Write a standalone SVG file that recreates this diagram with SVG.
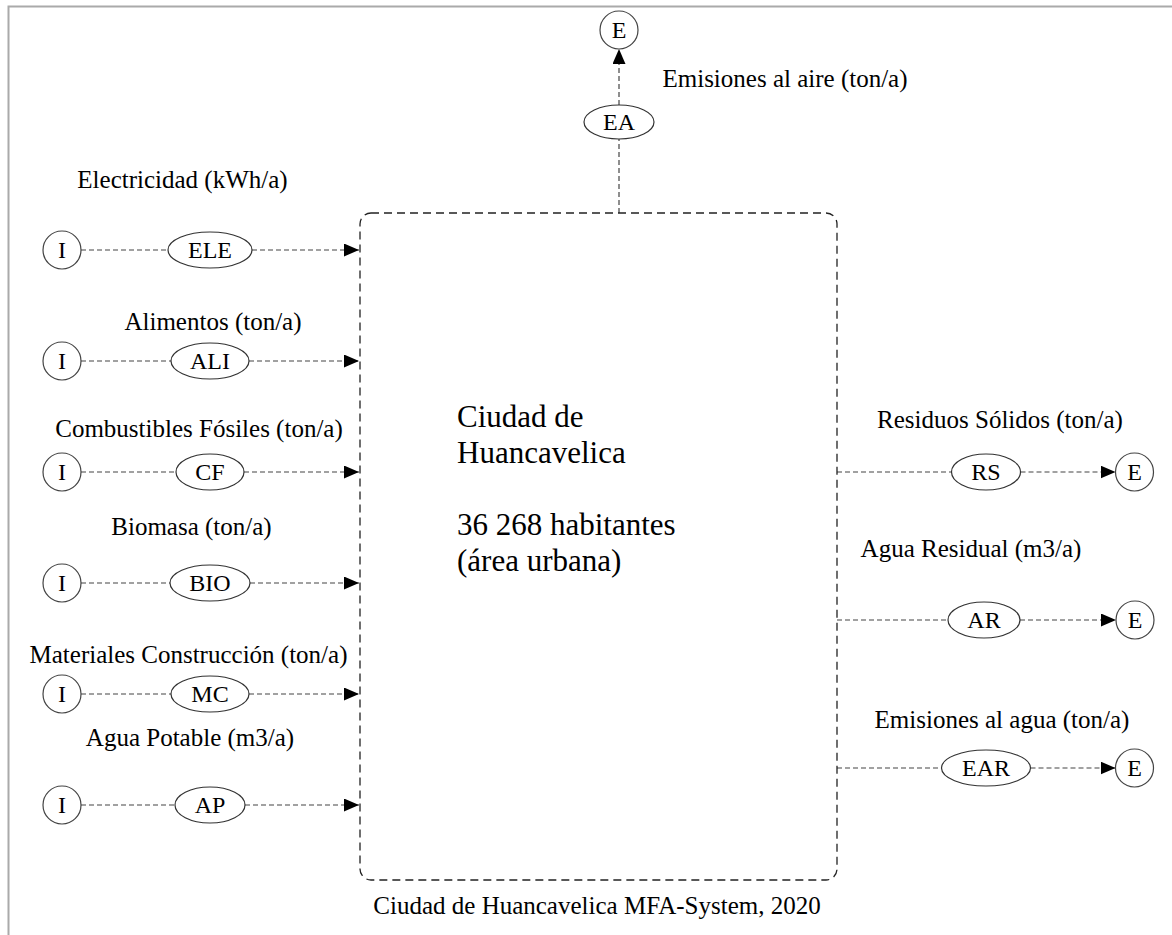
<svg xmlns="http://www.w3.org/2000/svg" width="1172" height="935" viewBox="0 0 1172 935" font-family="'Liberation Serif','Times New Roman',serif">
<defs>
<marker id="arr" markerUnits="userSpaceOnUse" markerWidth="15" markerHeight="13" refX="15" refY="6.5" orient="auto">
<path d="M0,0 L15,6.5 L0,13 z" fill="#000"/>
</marker>
<style>
text{font-family:"Liberation Serif","Times New Roman",serif;fill:#000}
.lbl{font-size:25px;text-anchor:middle}
.nt{font-size:24px;text-anchor:middle}
.big{font-size:31px;font-family:"Liberation Serif","Times New Roman",serif}
.ell{fill:#fff;stroke:#333;stroke-width:1.2}
.cir{fill:#fff;stroke:#444;stroke-width:1.2}
.con{fill:none;stroke:#444;stroke-width:1.2;stroke-dasharray:5,3}
.box{fill:none;stroke:#222;stroke-width:1.3;stroke-dasharray:8,5}
</style>
</defs>
<rect x="8.5" y="6.5" width="1200" height="1000" fill="#fff" stroke="#aaa" stroke-width="2"/>

<g id="connectors">
<line class="con" x1="81" y1="250" x2="168" y2="250"/>
<line class="con" x1="252" y1="250" x2="359" y2="250" marker-end="url(#arr)"/>
<line class="con" x1="81" y1="361" x2="171" y2="361"/>
<line class="con" x1="249" y1="361" x2="359" y2="361" marker-end="url(#arr)"/>
<line class="con" x1="81" y1="472" x2="176" y2="472"/>
<line class="con" x1="244" y1="472" x2="359" y2="472" marker-end="url(#arr)"/>
<line class="con" x1="81" y1="583" x2="170" y2="583"/>
<line class="con" x1="250" y1="583" x2="359" y2="583" marker-end="url(#arr)"/>
<line class="con" x1="81" y1="694" x2="171" y2="694"/>
<line class="con" x1="249" y1="694" x2="359" y2="694" marker-end="url(#arr)"/>
<line class="con" x1="81" y1="805" x2="175" y2="805"/>
<line class="con" x1="245" y1="805" x2="359" y2="805" marker-end="url(#arr)"/>
<line class="con" x1="619" y1="213" x2="619" y2="139"/>
<line class="con" x1="619" y1="105" x2="619" y2="49" marker-end="url(#arr)"/>
<line class="con" x1="837" y1="472" x2="951.5" y2="472"/>
<line class="con" x1="1020.5" y1="472" x2="1115.5" y2="472" marker-end="url(#arr)"/>
<line class="con" x1="837" y1="620" x2="948" y2="620"/>
<line class="con" x1="1020" y1="620" x2="1116" y2="620" marker-end="url(#arr)"/>
<line class="con" x1="837" y1="768" x2="941.5" y2="768"/>
<line class="con" x1="1030.5" y1="768" x2="1115.5" y2="768" marker-end="url(#arr)"/>
</g>

<g id="city">
<rect class="box" x="360" y="213" width="477" height="667" rx="11"/>
<text class="big" x="457" y="427">Ciudad de</text>
<text class="big" x="457" y="463">Huancavelica</text>
<text class="big" x="457" y="535">36 268 habitantes</text>
<text class="big" x="457" y="571">(área urbana)</text>
</g>

<g id="labels">
<text class="lbl" x="182.5" y="188">Electricidad (kWh/a)</text>
<text class="lbl" x="213" y="330">Alimentos (ton/a)</text>
<text class="lbl" x="199" y="437">Combustibles Fósiles (ton/a)</text>
<text class="lbl" x="191.5" y="535">Biomasa (ton/a)</text>
<text class="lbl" x="188.5" y="663">Materiales Construcción (ton/a)</text>
<text class="lbl" x="190" y="746">Agua Potable (m3/a)</text>
<text class="lbl" x="785" y="87">Emisiones al aire (ton/a)</text>
<text class="lbl" x="1000" y="428">Residuos Sólidos (ton/a)</text>
<text class="lbl" x="971" y="557">Agua Residual (m3/a)</text>
<text class="lbl" x="1002" y="728">Emisiones al agua (ton/a)</text>
<text class="lbl" x="597" y="914">Ciudad de Huancavelica MFA-System, 2020</text>
</g>

<g id="I1"><circle class="cir" cx="62" cy="250" r="19"/><text class="nt" x="62" y="258">I</text></g>
<g id="I2"><circle class="cir" cx="62" cy="361" r="19"/><text class="nt" x="62" y="369">I</text></g>
<g id="I3"><circle class="cir" cx="62" cy="472" r="19"/><text class="nt" x="62" y="480">I</text></g>
<g id="I4"><circle class="cir" cx="62" cy="583" r="19"/><text class="nt" x="62" y="591">I</text></g>
<g id="I5"><circle class="cir" cx="62" cy="694" r="19"/><text class="nt" x="62" y="702">I</text></g>
<g id="I6"><circle class="cir" cx="62" cy="805" r="19"/><text class="nt" x="62" y="813">I</text></g>

<g id="ELE"><ellipse class="ell" cx="210" cy="250" rx="42" ry="18"/><text class="nt" x="210" y="258">ELE</text></g>
<g id="ALI"><ellipse class="ell" cx="210" cy="361" rx="39" ry="18"/><text class="nt" x="210" y="369">ALI</text></g>
<g id="CF"><ellipse class="ell" cx="210" cy="472" rx="34" ry="18"/><text class="nt" x="210" y="480">CF</text></g>
<g id="BIO"><ellipse class="ell" cx="210" cy="583" rx="40" ry="18"/><text class="nt" x="210" y="591">BIO</text></g>
<g id="MC"><ellipse class="ell" cx="210" cy="694" rx="39" ry="18"/><text class="nt" x="210" y="702">MC</text></g>
<g id="AP"><ellipse class="ell" cx="210" cy="805" rx="35" ry="18"/><text class="nt" x="210" y="813">AP</text></g>

<g id="EA"><ellipse class="ell" cx="619" cy="122" rx="35" ry="17"/><text class="nt" x="619" y="130">EA</text></g>
<g id="E_air"><circle class="cir" cx="619" cy="30" r="19"/><text class="nt" x="619" y="38">E</text></g>

<g id="RS"><ellipse class="ell" cx="986" cy="472" rx="34.5" ry="18"/><text class="nt" x="986" y="480">RS</text></g>
<g id="AR"><ellipse class="ell" cx="984" cy="620" rx="36" ry="18"/><text class="nt" x="984" y="628">AR</text></g>
<g id="EAR"><ellipse class="ell" cx="986" cy="768" rx="44.5" ry="18"/><text class="nt" x="986" y="776">EAR</text></g>

<g id="E_RS"><circle class="cir" cx="1134.5" cy="472" r="19"/><text class="nt" x="1134.5" y="480">E</text></g>
<g id="E_AR"><circle class="cir" cx="1135" cy="620" r="19"/><text class="nt" x="1135" y="628">E</text></g>
<g id="E_EAR"><circle class="cir" cx="1134.5" cy="768" r="19"/><text class="nt" x="1134.5" y="776">E</text></g>
</svg>
